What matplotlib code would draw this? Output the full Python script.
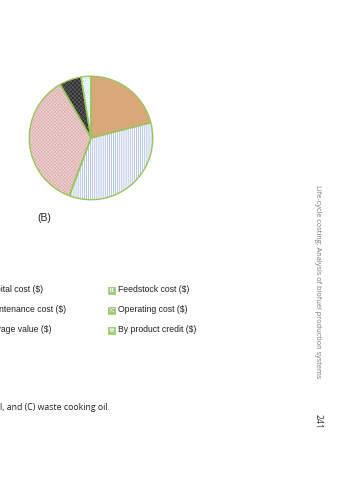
import matplotlib.pyplot as plt
from matplotlib.patches import Rectangle

W, H = 359, 480

# slice data, clockwise from 12 o'clock
labels = ['Capital cost ($)', 'Feedstock cost ($)', 'Maintenance cost ($)',
          'Operating cost ($)', 'Salvage value ($)', 'By product credit ($)']
shares = [21.0, 34.7, 0.0, 36.0, 5.7, 2.6]
faces = ['#d9a878', '#ffffff', '#ffffff', '#f1d6d6', '#5a5a5a', '#f4fbfb']
hatches = [None, '||||||||', None, 'xxxxxxxxxx', 'xxxxxxxx', '.......']
hcolors = ['#d9a878', '#98aedb', '#ffffff', '#ddb0b0', '#2a2a2a', '#a9d6d8']
edge = '#9cc45e'

plt.rcParams['hatch.linewidth'] = 0.5

fig = plt.figure(figsize=(W / 100, H / 100), dpi=100)

cx, cy, r = 91, 138, 63
ax = fig.add_axes([(cx - r) / W, 1 - (cy + r) / H, 2 * r / W, 2 * r / H])
# faces
wed, _ = ax.pie(shares, colors=faces, startangle=90, counterclock=False,
                wedgeprops=dict(linewidth=0))
# hatching layer
wed2, _ = ax.pie(shares, colors=['none'] * len(shares), startangle=90, counterclock=False,
                 wedgeprops=dict(linewidth=0))
for w, h, c in zip(wed2, hatches, hcolors):
    if h:
        w.set_hatch(h)
        w.set_edgecolor(c)
# outlines
ax.pie(shares, colors=['none'] * len(shares), startangle=90, counterclock=False,
       wedgeprops=dict(linewidth=1.0, edgecolor=edge))
ax.set_xlim(-1.02, 1.02)
ax.set_ylim(-1.02, 1.02)
ax.set_aspect('equal')

def fx(x):
    return x / W

def fy(y):
    return 1 - y / H

fig.text(fx(44), fy(218), '(B)', fontsize=7.5, family='Liberation Sans',
         ha='center', va='center', color='#222222')

# legend, left column is cut off by the page edge
rows = [290, 310, 330]
left_ends = [43, 66, 52]
for i, y in enumerate(rows):
    fig.text(fx(left_ends[i]), fy(y), labels[2 * i], fontsize=6.2,
             family='Liberation Sans', ha='right', va='center', color='#222222')
    j = 2 * i + 1
    box = Rectangle((fx(108), fy(y + 3.5)), 7 / W, 7 / H, transform=fig.transFigure,
                    facecolor='#9fcf6e', edgecolor='#9fcf6e', linewidth=0.6)
    fig.add_artist(box)
    hb = Rectangle((fx(109.5), fy(y + 2)), 4 / W, 4 / H, transform=fig.transFigure,
                   facecolor='#eef6ee', edgecolor='#c9a0a0' if j == 3 else '#8fb0d8',
                   hatch=hatches[j], linewidth=0)
    fig.add_artist(hb)
    fig.text(fx(118), fy(y), labels[j], fontsize=6.2, family='Liberation Sans',
             ha='left', va='center', color='#222222')

fig.text(fx(0), fy(408), 'l, and (C) waste cooking oil.', fontsize=6.3,
         family='Open Sans', ha='left', va='center', color='#222222')

fig.text(fx(318), fy(282), 'Life-cycle costing: Analysis of biofuel production systems',
         fontsize=5.3, family='Open Sans', rotation=270, ha='center', va='center',
         color='#777777')
fig.text(fx(318), fy(421), '241', fontsize=6.3, family='Open Sans', rotation=270,
         ha='center', va='center', color='#333333')

fig.savefig('out.png', dpi=100, facecolor='white')
